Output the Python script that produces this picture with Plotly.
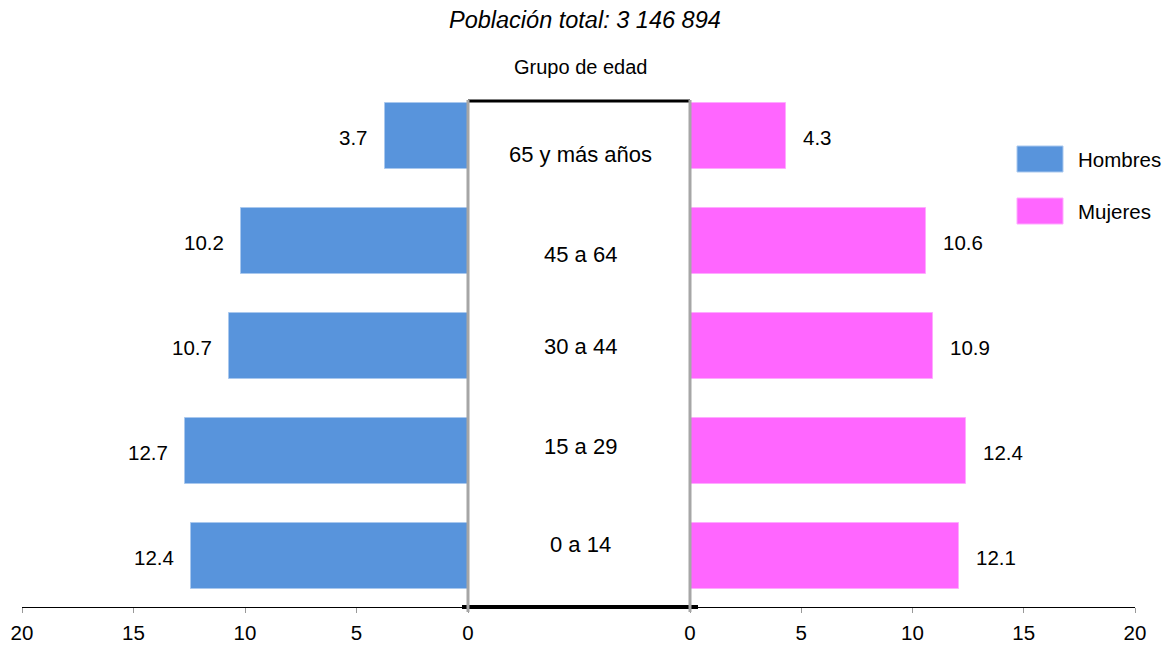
import plotly.graph_objects as go

groups = ["0 a 14", "15 a 29", "30 a 44", "45 a 64", "65 y más años"]
hombres = [12.4, 12.7, 10.7, 10.2, 3.7]
mujeres = [12.1, 12.4, 10.9, 10.6, 4.3]
ticks = [0, 5, 10, 15, 20]

W, H = 1174, 648
TOP, BOT = 101, 607
blue = "#5894dc"
pink = "#ff66ff"
FONT = "Arial, Liberation Sans, sans-serif"

ypos = list(range(len(groups)))
fig = go.Figure()
fig.add_trace(go.Bar(y=ypos, x=hombres, orientation="h", xaxis="x", yaxis="y",
                     marker=dict(color=blue, line=dict(color="#a9c8ee", width=1)),
                     width=0.63, name="Hombres", showlegend=False, hoverinfo="skip"))
fig.add_trace(go.Bar(y=ypos, x=mujeres, orientation="h", xaxis="x2", yaxis="y",
                     marker=dict(color=pink, line=dict(color="#ffaaff", width=1)),
                     width=0.63, name="Mujeres", showlegend=False, hoverinfo="skip"))

ann = []
for i, (g, h, m) in enumerate(zip(groups, hombres, mujeres)):
    ann.append(dict(x=h, y=i, xref="x", yref="y", text=f"{h}", showarrow=False,
                    xanchor="right", yanchor="middle", xshift=-15, yshift=-2,
                    font=dict(size=20.5)))
    ann.append(dict(x=m, y=i, xref="x2", yref="y", text=f"{m}", showarrow=False,
                    xanchor="left", yanchor="middle", xshift=15, yshift=-2,
                    font=dict(size=20.5)))

label_yshift = [11, 4, -1, -14, -19]
for i, g in enumerate(groups):
    ann.append(dict(x=580 / W, y=i, xref="paper", yref="y", text=g, showarrow=False,
                    xanchor="center", yanchor="middle", yshift=label_yshift[i],
                    font=dict(size=22)))

ph = BOT - TOP
def py(pix):
    return (BOT - pix) / ph

ann.append(dict(x=580 / W, y=py(67), xref="paper", yref="paper", text="Grupo de edad",
                showarrow=False, xanchor="center", yanchor="middle", font=dict(size=20)))
ann.append(dict(x=585 / W, y=py(20), xref="paper", yref="paper",
                text="<i>Población total: 3 146 894</i>", showarrow=False,
                xanchor="center", yanchor="middle", font=dict(size=23.5)))

# legend
shapes = []
leg = [("Hombres", blue, "#a9c8ee", 159), ("Mujeres", pink, "#ffaaff", 211)]
for name, c, lc, yc in leg:
    shapes.append(dict(type="rect", xref="paper", yref="paper",
                       x0=1017 / W, x1=1063 / W, y0=py(yc + 13), y1=py(yc - 13),
                       fillcolor=c, line=dict(color=lc, width=1)))
    ann.append(dict(x=1076 / W, y=py(yc), xref="paper", yref="paper", text=name,
                    showarrow=False, xanchor="left", yanchor="middle", font=dict(size=20.5)))

# middle box
shapes.append(dict(type="line", xref="paper", yref="paper", x0=468 / W, x1=690 / W,
                   y0=py(101), y1=py(101), line=dict(color="black", width=3)))
shapes.append(dict(type="line", xref="paper", yref="paper", x0=462 / W, x1=698 / W,
                   y0=py(607), y1=py(607), line=dict(color="black", width=4)))
for xp in (468, 690):
    shapes.append(dict(type="line", xref="paper", yref="paper", x0=xp / W, x1=xp / W,
                       y0=py(100), y1=py(612), line=dict(color="#a6a6a6", width=3)))

axcommon = dict(tickvals=ticks, ticktext=[str(t) for t in ticks], showgrid=False,
                zeroline=False, showline=True, linecolor="black", linewidth=1,
                ticks="outside", ticklen=5, tickcolor="#999999", tickwidth=1,
                tickfont=dict(size=20.5), ticklabelstandoff=2, fixedrange=True,
                automargin=False)

fig.update_layout(
    width=W, height=H, autosize=False,
    margin=dict(l=0, r=0, t=TOP, b=H - BOT, pad=0),
    paper_bgcolor="white", plot_bgcolor="white",
    font=dict(family=FONT, color="black"),
    xaxis=dict(domain=[22 / W, 468 / W], range=[20, 0], anchor="y", **axcommon),
    xaxis2=dict(domain=[690 / W, 1135 / W], range=[0, 20], anchor="y", **axcommon),
    yaxis=dict(range=[-0.486, 4.333], visible=False, fixedrange=True, automargin=False),
    annotations=ann, shapes=shapes, showlegend=False, bargap=0,
)

fig.write_html("out.html", config={"displayModeBar": False},
               post_script="document.body.style.margin='0';document.body.style.overflow='hidden';")
